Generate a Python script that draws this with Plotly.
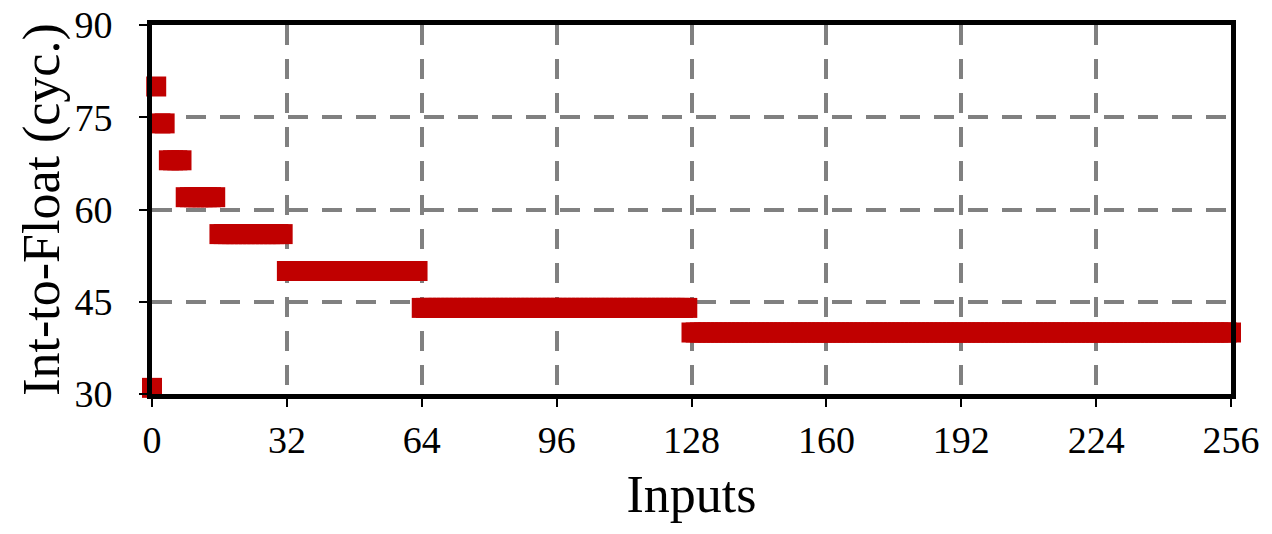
import plotly.graph_objects as go

# step table: inputs seg_start..seg_end all take seg_cycles
seg_start = [0, 1, 2, 4, 8, 16, 32, 64, 128]
seg_end = [0, 1, 3, 7, 15, 31, 63, 127, 256]
seg_cycles = [31, 80, 74, 68, 62, 56, 50, 44, 40]

x_ticks = [0, 32, 64, 96, 128, 160, 192, 224, 256]
y_ticks = [30, 45, 60, 75, 90]

# one point per input, as in the original scatter
inputs, cycles = [], []
for s, e, c in zip(seg_start, seg_end, seg_cycles):
    for n in range(s, e + 1):
        inputs.append(n)
        cycles.append(c)

FONT = "Times New Roman, Liberation Serif, serif"

fig = go.Figure()
fig.add_trace(go.Scatter(
    x=inputs, y=cycles, mode="markers",
    marker=dict(symbol="square", size=20, color="#C00000", line=dict(width=0)),
    cliponaxis=False, showlegend=False,
))

axis_common = dict(
    showline=True, linecolor="black", linewidth=5, mirror=True,
    ticks="outside", ticklen=8, tickwidth=2, tickcolor="black",
    showgrid=True, gridcolor="#808080", gridwidth=4, griddash="20px,14px",
    zeroline=False, automargin=False, ticklabeloverflow="allow",
    tickfont=dict(family=FONT, size=38, color="black"),
)

fig.update_xaxes(
    range=[0, 256], tickvals=x_ticks,
    title=dict(text="Inputs", font=dict(family=FONT, size=52, color="black"), standoff=18),
    **axis_common,
)
fig.update_yaxes(
    range=[30, 90], tickvals=y_ticks,
    ticktext=[f"{v}\u2002" for v in y_ticks],  # push labels away from the axis
    title=dict(text="Int-to-Float (cyc.)", font=dict(family=FONT, size=52, color="black"), standoff=0),
    **axis_common,
)

# the page body adds an 8px offset, so margins are shifted to compensate
fig.update_layout(
    width=1272, height=534,
    margin=dict(l=144, r=49, t=17, b=148),
    plot_bgcolor="white", paper_bgcolor="white",
)

fig.write_html("out.html")
